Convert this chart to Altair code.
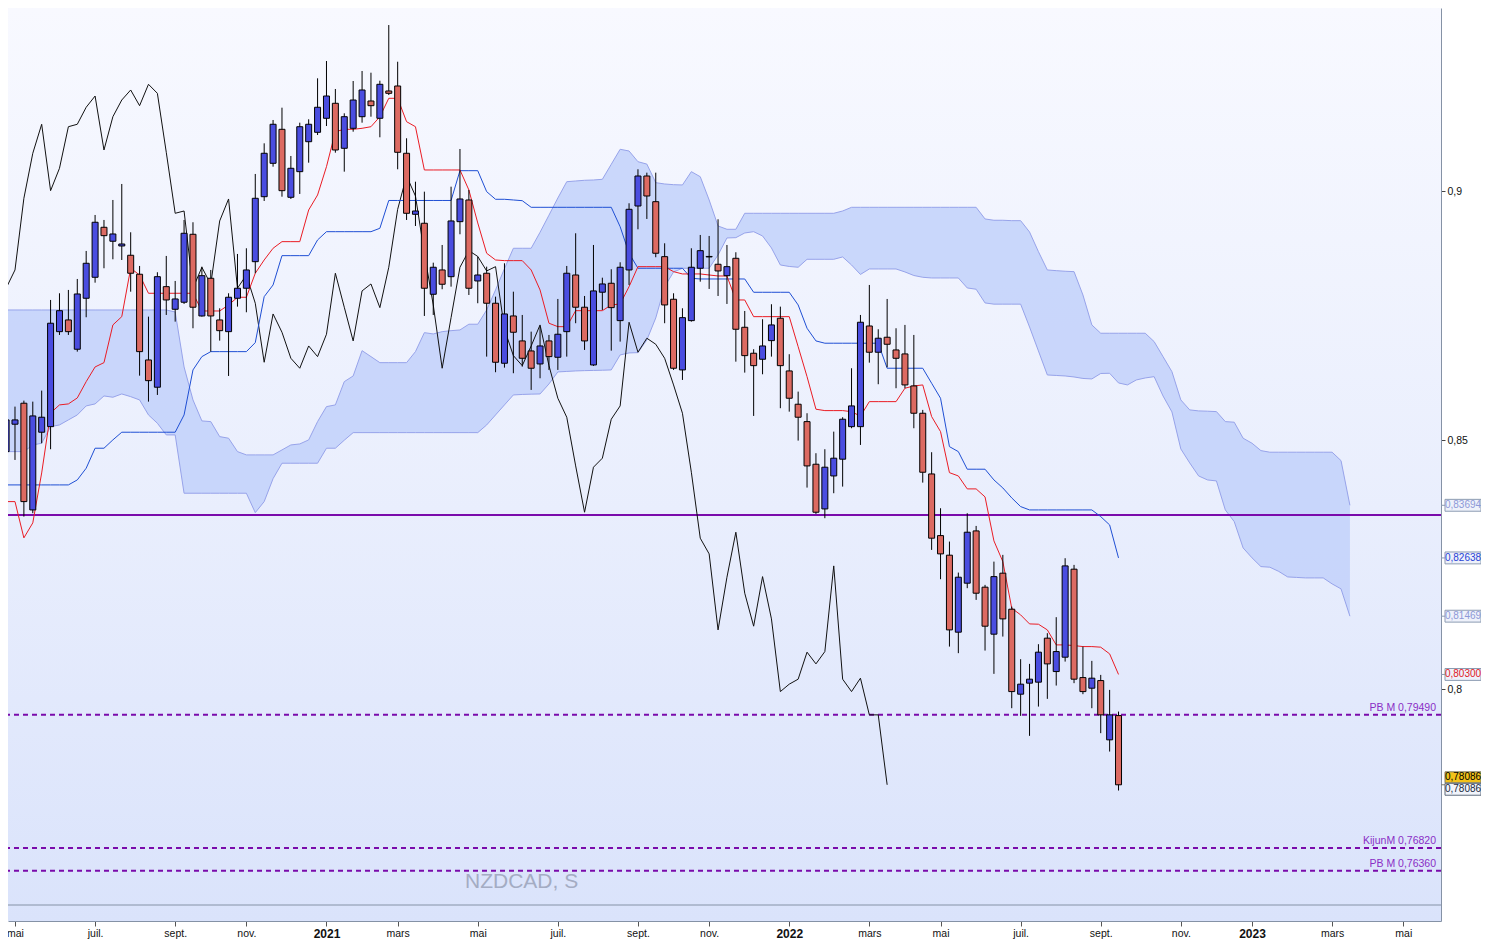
import altair as alt
import pandas as pd

FONT = "Liberation Sans"
START = "2020-04-27"   # first weekly candle (weeks dated on Mondays)

# ---------------- weekly OHLC (NZDCAD) ----------------
open_ = [
    0.84771, 0.85321, 0.85742, 0.83601, 0.85160, 0.85272, 0.87178, 0.87413, 0.86825, 0.87848,
    0.88269, 0.89272, 0.88992, 0.88897, 0.88711, 0.88330, 0.86610, 0.86063, 0.88081, 0.87627,
    0.87768, 0.89132, 0.87493, 0.88249, 0.87413, 0.87178, 0.87848, 0.88049, 0.88582, 0.89886,
    0.90556, 0.91238, 0.89874, 0.90388, 0.90989, 0.91178, 0.91459, 0.91760, 0.90857, 0.91258,
    0.91491, 0.91806, 0.91459, 0.92007, 0.92107, 0.90757, 0.89533, 0.89353, 0.87928, 0.88416,
    0.88281, 0.89385, 0.89820, 0.88195, 0.88350, 0.87748, 0.86544, 0.87493, 0.86992, 0.86791,
    0.86530, 0.86992, 0.86664, 0.87178, 0.88315, 0.87668, 0.86510, 0.87969, 0.88149, 0.87399,
    0.88416, 0.89699, 0.90301, 0.89786, 0.88683, 0.87828, 0.86410, 0.87399, 0.88450, 0.88677,
    0.88530, 0.88301, 0.88650, 0.87266, 0.86745, 0.86624, 0.86998, 0.87447, 0.86390, 0.85722,
    0.85373, 0.84518, 0.83621, 0.84283, 0.84619, 0.85272, 0.85272, 0.87292, 0.86765, 0.87066,
    0.86811, 0.86731, 0.86089, 0.85541, 0.84323, 0.83086, 0.82693, 0.81148, 0.82131, 0.83180,
    0.82051, 0.81108, 0.82332, 0.81609, 0.79904, 0.80125, 0.80145, 0.81028, 0.80358, 0.80646,
    0.82412, 0.80237, 0.80024, 0.80177, 0.78988, 0.79475,
]
high = [
    0.85774, 0.85674, 0.85794, 0.85774, 0.85995, 0.87814, 0.87948, 0.88015, 0.88235, 0.88797,
    0.89519, 0.89419, 0.89820, 0.90141, 0.89172, 0.88496, 0.87479, 0.88370, 0.88697, 0.88195,
    0.89419, 0.89373, 0.88482, 0.88416, 0.87647, 0.87948, 0.88737, 0.88851, 0.90342, 0.90957,
    0.91425, 0.91672, 0.90703, 0.91371, 0.91439, 0.92261, 0.92608, 0.92047, 0.91559, 0.92207,
    0.92408, 0.92374, 0.92213, 0.93330, 0.92594, 0.91058, 0.90187, 0.89987, 0.88562, 0.88917,
    0.90087, 0.90843, 0.90021, 0.88683, 0.88482, 0.87880, 0.88550, 0.87980, 0.87513, 0.87178,
    0.87278, 0.87112, 0.87834, 0.88496, 0.89152, 0.87894, 0.88917, 0.88261, 0.88430, 0.88570,
    0.89754, 0.90436, 0.90368, 0.90368, 0.88951, 0.87948, 0.87647, 0.88851, 0.89118, 0.89098,
    0.89433, 0.88917, 0.88771, 0.87593, 0.86825, 0.87427, 0.87728, 0.87680, 0.86725, 0.85975,
    0.85541, 0.84739, 0.84819, 0.85172, 0.85461, 0.86444, 0.87513, 0.88115, 0.87226, 0.87834,
    0.87246, 0.87313, 0.87112, 0.85608, 0.84759, 0.83635, 0.82966, 0.82344, 0.83535, 0.83280,
    0.82097, 0.82564, 0.82699, 0.81661, 0.80606, 0.80512, 0.80907, 0.81128, 0.81449, 0.82632,
    0.82498, 0.80859, 0.80572, 0.80291, 0.79990, 0.79555,
]
low = [
    0.84269, 0.84604, 0.83467, 0.83535, 0.84939, 0.84819, 0.87112, 0.87112, 0.86777, 0.87467,
    0.88161, 0.88450, 0.88630, 0.88616, 0.87980, 0.86295, 0.85774, 0.85908, 0.87513, 0.87379,
    0.87734, 0.87246, 0.87479, 0.86777, 0.86998, 0.86289, 0.87680, 0.87567, 0.88350, 0.89800,
    0.90488, 0.89886, 0.89840, 0.89941, 0.90568, 0.91124, 0.91304, 0.90769, 0.90388, 0.91190,
    0.91371, 0.91491, 0.91078, 0.91926, 0.90436, 0.89419, 0.89298, 0.87493, 0.87513, 0.88029,
    0.88081, 0.89132, 0.87914, 0.87748, 0.86677, 0.86364, 0.86456, 0.86344, 0.86476, 0.86009,
    0.86243, 0.86410, 0.86410, 0.86677, 0.87347, 0.86811, 0.86490, 0.87613, 0.86797, 0.86978,
    0.88115, 0.89232, 0.89439, 0.88671, 0.87347, 0.86410, 0.86209, 0.87379, 0.88181, 0.88035,
    0.87894, 0.87734, 0.86576, 0.86356, 0.85487, 0.86323, 0.86677, 0.85642, 0.85573, 0.84992,
    0.84049, 0.83521, 0.83435, 0.83936, 0.84069, 0.85240, 0.84905, 0.86556, 0.86123, 0.86464,
    0.86043, 0.86043, 0.85240, 0.84149, 0.82799, 0.82211, 0.80859, 0.80727, 0.82031, 0.81796,
    0.80779, 0.80312, 0.81060, 0.79623, 0.79469, 0.79068, 0.79655, 0.79810, 0.80077, 0.80558,
    0.80125, 0.79904, 0.79623, 0.79122, 0.78753, 0.77971,
]
close_ = [
    0.85407, 0.85407, 0.83768, 0.85487, 0.85461, 0.87347, 0.87599, 0.87178, 0.87934, 0.88550,
    0.89373, 0.89104, 0.89138, 0.88937, 0.88350, 0.86777, 0.86195, 0.88281, 0.87814, 0.87834,
    0.89152, 0.87668, 0.88301, 0.87493, 0.87198, 0.87868, 0.88049, 0.88416, 0.89854, 0.90757,
    0.91339, 0.90007, 0.90456, 0.91290, 0.91339, 0.91680, 0.91906, 0.90823, 0.91491, 0.91826,
    0.92027, 0.91712, 0.92141, 0.91960, 0.90777, 0.89553, 0.89599, 0.88049, 0.88470, 0.88129,
    0.89399, 0.89840, 0.88049, 0.88315, 0.87748, 0.86564, 0.87533, 0.87166, 0.86644, 0.86444,
    0.86891, 0.86677, 0.87126, 0.88350, 0.87668, 0.86992, 0.87995, 0.88135, 0.87660, 0.88470,
    0.89633, 0.90301, 0.89900, 0.88751, 0.87714, 0.86444, 0.87459, 0.88470, 0.88803, 0.88687,
    0.88396, 0.88482, 0.87226, 0.86697, 0.86496, 0.86891, 0.87313, 0.86496, 0.85842, 0.85461,
    0.84484, 0.83555, 0.84458, 0.84639, 0.85421, 0.85688, 0.87367, 0.86765, 0.87046, 0.86925,
    0.86644, 0.86109, 0.85541, 0.84357, 0.83034, 0.82719, 0.81194, 0.82251, 0.83154, 0.81930,
    0.81268, 0.82263, 0.81415, 0.79956, 0.80105, 0.80205, 0.80747, 0.80512, 0.80759, 0.82478,
    0.80205, 0.79956, 0.80225, 0.79489, 0.79489, 0.78086,
]

# ---------------- Ichimoku lines ----------------
tenkan = [
    0.83768, 0.83768, 0.83040, 0.83341, 0.84343, 0.85547, 0.85708, 0.85728, 0.85848, 0.86175,
    0.86470, 0.86556, 0.87313, 0.87479, 0.88450, 0.88315, 0.87948, 0.87948, 0.87948, 0.87948,
    0.87948, 0.87948, 0.87593, 0.87593, 0.87593, 0.87714, 0.87868, 0.87868, 0.88350, 0.88616,
    0.88851, 0.88984, 0.88984, 0.88984, 0.89619, 0.89920, 0.90488, 0.91190, 0.91238, 0.91238,
    0.91258, 0.91290, 0.91491, 0.91860, 0.91860, 0.91391, 0.91290, 0.90422, 0.90422, 0.90422,
    0.90422, 0.90422, 0.90021, 0.89359, 0.88751, 0.88616, 0.88603, 0.88603, 0.88603, 0.88416,
    0.88015, 0.87347, 0.87278, 0.87278, 0.87599, 0.87599, 0.87599, 0.87599, 0.87714, 0.87734,
    0.88081, 0.88482, 0.88482, 0.88482, 0.88482, 0.88382, 0.88336, 0.88336, 0.88336, 0.88315,
    0.88295, 0.88295, 0.87814, 0.87814, 0.87479, 0.87479, 0.87479, 0.87479, 0.87479, 0.86877,
    0.86275, 0.85622, 0.85594, 0.85594, 0.85594, 0.85573, 0.85481, 0.85774, 0.85774, 0.85774,
    0.85774, 0.86043, 0.86089, 0.86109, 0.85474, 0.85172, 0.84349, 0.84283, 0.84023, 0.84023,
    0.83862, 0.82980, 0.82564, 0.81629, 0.81495, 0.81314, 0.81308, 0.81194, 0.80893, 0.80893,
    0.80879, 0.80859, 0.80859, 0.80847, 0.80713, 0.80300,
]
kijun = [
    0.84103, 0.84103, 0.84103, 0.84103, 0.84103, 0.84103, 0.84103, 0.84103, 0.84203, 0.84438,
    0.84839, 0.84839, 0.85006, 0.85160, 0.85160, 0.85160, 0.85160, 0.85160, 0.85160, 0.85160,
    0.85507, 0.86410, 0.86677, 0.86777, 0.86777, 0.86777, 0.86777, 0.86777, 0.86958, 0.87880,
    0.88115, 0.88703, 0.88703, 0.88703, 0.88703, 0.89018, 0.89184, 0.89184, 0.89184, 0.89184,
    0.89184, 0.89184, 0.89252, 0.89810, 0.89810, 0.89810, 0.89810, 0.89810, 0.89810, 0.89810,
    0.89810, 0.90408, 0.90408, 0.90408, 0.89987, 0.89834, 0.89834, 0.89820, 0.89806, 0.89673,
    0.89673, 0.89673, 0.89673, 0.89673, 0.89673, 0.89673, 0.89673, 0.89673, 0.89673, 0.89284,
    0.88751, 0.88450, 0.88450, 0.88450, 0.88450, 0.88450, 0.88450, 0.88249, 0.88235, 0.88235,
    0.88235, 0.88235, 0.88235, 0.88235, 0.87968, 0.87968, 0.87968, 0.87968, 0.87968, 0.87714,
    0.87246, 0.86992, 0.86946, 0.86946, 0.86946, 0.86946, 0.86946, 0.86946, 0.86946, 0.86444,
    0.86444, 0.86444, 0.86444, 0.86444, 0.86143, 0.85842, 0.84871, 0.84771, 0.84418, 0.84418,
    0.84418, 0.84203, 0.84042, 0.83842, 0.83668, 0.83601, 0.83601, 0.83601, 0.83601, 0.83601,
    0.83601, 0.83601, 0.83601, 0.83467, 0.83300, 0.82638,
]
# cloud (Senkou spans, already displaced 26 weeks ahead): upper / lower edge
cloud_top = [
    0.87613, 0.87613, 0.87613, 0.87613, 0.87613, 0.87613, 0.87613, 0.87613, 0.87613, 0.87613,
    0.87613, 0.87613, 0.87613, 0.87613, 0.87613, 0.87613, 0.87613, 0.87613, 0.87613, 0.87573,
    0.86470, 0.85808, 0.85387, 0.85373, 0.85072, 0.85040, 0.84771, 0.84705, 0.84705, 0.84705,
    0.84705, 0.84805, 0.84905, 0.84925, 0.85006, 0.85373, 0.85674, 0.85708, 0.86175, 0.86289,
    0.86797, 0.86677, 0.86556, 0.86556, 0.86556, 0.86556, 0.86777, 0.87158, 0.87132, 0.87178,
    0.87198, 0.87212, 0.87327, 0.87327, 0.87613, 0.88015, 0.88442, 0.88851, 0.88851, 0.88851,
    0.89172, 0.89515, 0.89860, 0.90187, 0.90201, 0.90215, 0.90221, 0.90235, 0.90536, 0.90837,
    0.90803, 0.90588, 0.90540, 0.90167, 0.90141, 0.90127, 0.90121, 0.90388, 0.90287, 0.89820,
    0.89298, 0.89232, 0.89232, 0.89553, 0.89553, 0.89553, 0.89553, 0.89553, 0.89553, 0.89553,
    0.89553, 0.89553, 0.89553, 0.89553, 0.89599, 0.89673, 0.89673, 0.89673, 0.89673, 0.89673,
    0.89673, 0.89673, 0.89673, 0.89673, 0.89673, 0.89673, 0.89673, 0.89673, 0.89673, 0.89673,
    0.89439, 0.89413, 0.89413, 0.89405, 0.89405, 0.89178, 0.88783, 0.88416, 0.88402, 0.88390,
    0.88382, 0.87914, 0.87313, 0.87146, 0.87146, 0.87146, 0.87146, 0.87146, 0.87146, 0.86978,
    0.86677, 0.86375, 0.85808, 0.85608, 0.85588, 0.85582, 0.85574, 0.85373, 0.85361, 0.85040,
    0.84939, 0.84791, 0.84759, 0.84759, 0.84759, 0.84759, 0.84759, 0.84759, 0.84759, 0.84759,
    0.84590, 0.83694,
]
cloud_bot = [
    0.84771, 0.84771, 0.84771, 0.84905, 0.84939, 0.85272, 0.85306, 0.85407, 0.85507, 0.85688,
    0.85728, 0.85888, 0.85862, 0.85928, 0.85874, 0.85808, 0.85507, 0.85340, 0.85106, 0.85106,
    0.83936, 0.83936, 0.83936, 0.83936, 0.83936, 0.83936, 0.83936, 0.83936, 0.83547, 0.83768,
    0.84229, 0.84538, 0.84538, 0.84538, 0.84538, 0.84538, 0.84839, 0.84839, 0.85000, 0.85152,
    0.85152, 0.85152, 0.85152, 0.85152, 0.85152, 0.85152, 0.85152, 0.85152, 0.85152, 0.85152,
    0.85152, 0.85152, 0.85152, 0.85152, 0.85306, 0.85507, 0.85708, 0.85908, 0.85918, 0.85924,
    0.85928, 0.86129, 0.86370, 0.86380, 0.86390, 0.86396, 0.86400, 0.86404, 0.86410, 0.86711,
    0.86751, 0.86757, 0.87012, 0.87453, 0.88081, 0.88376, 0.88450, 0.88450, 0.88450, 0.88450,
    0.88717, 0.89058, 0.89064, 0.89158, 0.89184, 0.89098, 0.88857, 0.88516, 0.88486, 0.88470,
    0.88630, 0.88630, 0.88630, 0.88630, 0.88677, 0.88516, 0.88326, 0.88436, 0.88436, 0.88436,
    0.88436, 0.88376, 0.88305, 0.88269, 0.88255, 0.88255, 0.88255, 0.88255, 0.88055, 0.88029,
    0.87754, 0.87730, 0.87730, 0.87730, 0.87730, 0.87272, 0.86791, 0.86309, 0.86299, 0.86289,
    0.86269, 0.86239, 0.86229, 0.86339, 0.86343, 0.86149, 0.86109, 0.86209, 0.86249, 0.86275,
    0.85888, 0.85568, 0.84825, 0.84544, 0.84283, 0.84203, 0.84183, 0.83601, 0.83367, 0.82839,
    0.82639, 0.82464, 0.82452, 0.82368, 0.82257, 0.82247, 0.82237, 0.82237, 0.82237, 0.82117,
    0.82017, 0.81469,
]

# ---------------- horizontal levels ----------------
solid_level = [0.83500]
dash_levels = [0.79490, 0.76820, 0.76360]
dash_labels = ["PB M 0,79490", "KijunM 0,76820", "PB M 0,76360"]

# right-hand price tags
tag_values = [0.83694, 0.82638, 0.81469, 0.80300]
tag_texts = ["0,83694", "0,82638", "0,81469", "0,80300"]
tag_colors = ["#8d99d8", "#2743d6", "#8d99d8", "#e0201e"]
last_price = [0.78086]
last_text = ["0,78086"]

# x-axis ticks: first weekly bar of every second month
tick_dates = ["2020-05-04", "2020-07-06", "2020-09-07", "2020-11-02", "2021-01-04",
              "2021-03-01", "2021-05-03", "2021-07-05", "2021-09-06", "2021-11-01",
              "2022-01-03", "2022-03-07", "2022-05-02", "2022-07-04", "2022-09-05",
              "2022-11-07", "2023-01-02", "2023-03-06", "2023-05-01"]

# ---------------- frames ----------------
n = len(close_)
dates = pd.date_range(START, periods=n, freq="7D")
cdates = pd.date_range(START, periods=len(cloud_top), freq="7D")

candles = pd.DataFrame({
    "date": dates.strftime("%Y-%m-%d"),
    "open": open_, "high": high, "low": low, "close": close_,
    "tenkan": tenkan, "kijun": kijun,
})
candles["dir"] = ["up" if c >= o else "down" for o, c in zip(open_, close_)]
cloud = pd.DataFrame({"date": cdates.strftime("%Y-%m-%d"), "top": cloud_top, "bot": cloud_bot})
chikou = pd.DataFrame({"date": dates[: n - 26].strftime("%Y-%m-%d"), "value": close_[26:]})
solid_df = pd.DataFrame({"value": solid_level})
dash_df = pd.DataFrame({"value": dash_levels, "label": dash_labels})
tags_df = pd.DataFrame({"value": tag_values, "text": tag_texts, "tc": tag_colors})
last_df = pd.DataFrame({"value": last_price, "text": last_text})

W, H = 1433, 913


def ms(s):
    return int(pd.Timestamp(s, tz="UTC").value // 10**6)


tick_vals = [ms(d) for d in tick_dates]

XSCALE = alt.Scale(type="utc", domain=[ms("2020-05-02 10:30"), ms("2023-05-26 17:00")])
XAXIS = alt.Axis(
    values=tick_vals, orient="bottom", grid=False, title=None,
    labelExpr="utcmonth(datum.value) == 0 ? utcFormat(datum.value, '%Y') : "
              "['janv.','févr.','mars','avr.','mai','juin','juil.','août','sept.','oct.','nov.','déc.'][utcmonth(datum.value)]",
    labelFontWeight={"condition": {"test": "utcmonth(datum.value) == 0", "value": "bold"}, "value": "normal"},
    labelFontSize={"condition": {"test": "utcmonth(datum.value) == 0", "value": 12}, "value": 10.5},
    labelFont=FONT, labelColor="#111111", tickSize=5, tickColor="#555555",
    domainColor="#8592a6", labelPadding=2, labelFlush=5,
)
YSCALE = alt.Scale(domain=[0.75353, 0.93672], zero=False, nice=False)
YAXIS = alt.Axis(
    values=[0.8, 0.85, 0.9], orient="right", grid=False, title=None,
    labelExpr="replace(format(datum.value, '.2~f'), '.', ',')",
    labelFont=FONT, labelFontSize=10.5, labelColor="#111111", tickSize=4,
    tickColor="#444444", domainColor="#8592a6", labelPadding=2,
)


def X(field="date"):
    return alt.X(f"{field}:T", scale=XSCALE, axis=XAXIS)


def Y(field):
    return alt.Y(f"{field}:Q", scale=YSCALE, axis=YAXIS)


BLUE_BODY = "#4a4de0"
RED_BODY = "#dc6a62"
PURPLE = "#7a0bab"

bg = alt.Chart(alt.Data(values=[{"a": 1}])).mark_rect(
    fill=alt.Gradient(gradient="linear", x1=0, y1=0, x2=0, y2=1,
                      stops=[alt.GradientStop(color="#f8f9ff", offset=0),
                             alt.GradientStop(color="#e9eefd", offset=0.55),
                             alt.GradientStop(color="#dae3fb", offset=1)])
).encode(x=alt.value(0), x2=alt.value(W), y=alt.value(0), y2=alt.value(H))

sep = alt.Chart(alt.Data(values=[{"a": 1}])).mark_rule(color="#8592a6", strokeWidth=1).encode(
    y=alt.value(897))

cloud_area = alt.Chart(cloud).mark_area(fill="#c2d1fa", opacity=0.85, clip=True).encode(
    x=X(), y=Y("top"), y2="bot:Q")
cloud_top_line = alt.Chart(cloud).mark_line(color="#97a3ea", strokeWidth=1, clip=True).encode(
    x=X(), y=Y("top"))
cloud_bot_line = alt.Chart(cloud).mark_line(color="#97a3ea", strokeWidth=1, clip=True).encode(
    x=X(), y=Y("bot"))

solid_rule = alt.Chart(solid_df).mark_rule(color=PURPLE, strokeWidth=2).encode(y=Y("value"))
dash_rule = alt.Chart(dash_df).mark_rule(color=PURPLE, strokeWidth=2, strokeDash=[5, 4]).encode(
    y=Y("value"))
dash_text = alt.Chart(dash_df).mark_text(
    align="right", baseline="bottom", dy=-2, font=FONT, fontSize=10.5, color="#8a2ec6"
).encode(x=alt.value(1428), y=Y("value"), text="label:N")

chikou_line = alt.Chart(chikou).mark_line(color="#111111", strokeWidth=1, clip=True).encode(
    x=X(), y=Y("value"))
kijun_line = alt.Chart(candles).mark_line(color="#1f4fd4", strokeWidth=1, clip=True).encode(
    x=X(), y=Y("kijun"))
tenkan_line = alt.Chart(candles).mark_line(color="#ea1c24", strokeWidth=1, clip=True).encode(
    x=X(), y=Y("tenkan"))

wicks = alt.Chart(candles).mark_rule(color="#000000", strokeWidth=1, clip=True).encode(
    x=X(), y=Y("low"), y2="high:Q")
bodies = alt.Chart(candles).mark_bar(size=6, stroke="#000000", strokeWidth=1, clip=True).encode(
    x=X(), y=Y("open"), y2="close:Q",
    color=alt.Color("dir:N", scale=alt.Scale(domain=["up", "down"], range=[BLUE_BODY, RED_BODY]),
                    legend=None))

watermark = alt.Chart(alt.Data(values=[{"t": "NZDCAD, S"}])).mark_text(
    align="left", baseline="middle", font=FONT, fontSize=21, color="#a4acc3"
).encode(x=alt.value(457), y=alt.value(874), text="t:N")

# price tags right of the axis (custom symbol paths, 18 px per unit)
BOX_MID = "M-1,-0.33L1,-0.33L1,0.33L-1,0.33Z M-1.22,0L-1,0"
BOX_UP = "M-1,-0.72L1,-0.72L1,-0.11L-1,-0.11Z M-1.22,0L-1,0"
BOX_DN = "M-1,-0.08L1,-0.08L1,0.58L-1,0.58Z"
BOX_X = 1455
BOX_SIZE = 36 * 36

tag_boxes = alt.Chart(tags_df).mark_point(
    shape=BOX_MID, size=BOX_SIZE, filled=True, fill="#eef1fa", stroke="#8c9bb2",
    strokeWidth=1, opacity=1
).encode(x=alt.value(BOX_X), y=Y("value"))
tag_text = alt.Chart(tags_df).mark_text(
    align="center", baseline="middle", font=FONT, fontSize=10
).encode(x=alt.value(BOX_X), y=Y("value"), text="text:N",
         color=alt.Color("tc:N", scale=None))

last_box_up = alt.Chart(last_df).mark_point(
    shape=BOX_UP, size=BOX_SIZE, filled=True, fill="#f2c21a", stroke="#7d7d6a",
    strokeWidth=1, opacity=1
).encode(x=alt.value(BOX_X), y=Y("value"))
last_box_dn = alt.Chart(last_df).mark_point(
    shape=BOX_DN, size=BOX_SIZE, filled=True, fill="#f1f4fb", stroke="#5f6b7c",
    strokeWidth=1, opacity=1
).encode(x=alt.value(BOX_X), y=Y("value"))
last_text_up = alt.Chart(last_df).mark_text(
    align="center", baseline="middle", font=FONT, fontSize=10, color="#000000", dy=-7.5
).encode(x=alt.value(BOX_X), y=Y("value"), text="text:N")
last_text_dn = alt.Chart(last_df).mark_text(
    align="center", baseline="middle", font=FONT, fontSize=10, color="#1a2a40", dy=4.5
).encode(x=alt.value(BOX_X), y=Y("value"), text="text:N")

chart = alt.layer(
    bg, sep, cloud_area, cloud_top_line, cloud_bot_line,
    solid_rule, dash_rule, dash_text,
    chikou_line, kijun_line, tenkan_line,
    wicks, bodies, watermark,
    tag_boxes, tag_text, last_box_up, last_box_dn, last_text_up, last_text_dn,
).properties(
    width=W, height=H,
    padding={"left": 0, "top": 0, "right": 40, "bottom": 18},
    autosize=alt.AutoSizeParams(type="none"),
    background="white",
).configure_view(stroke=None)

chart.save("out.html", embed_options={"renderer": "svg", "actions": False})
